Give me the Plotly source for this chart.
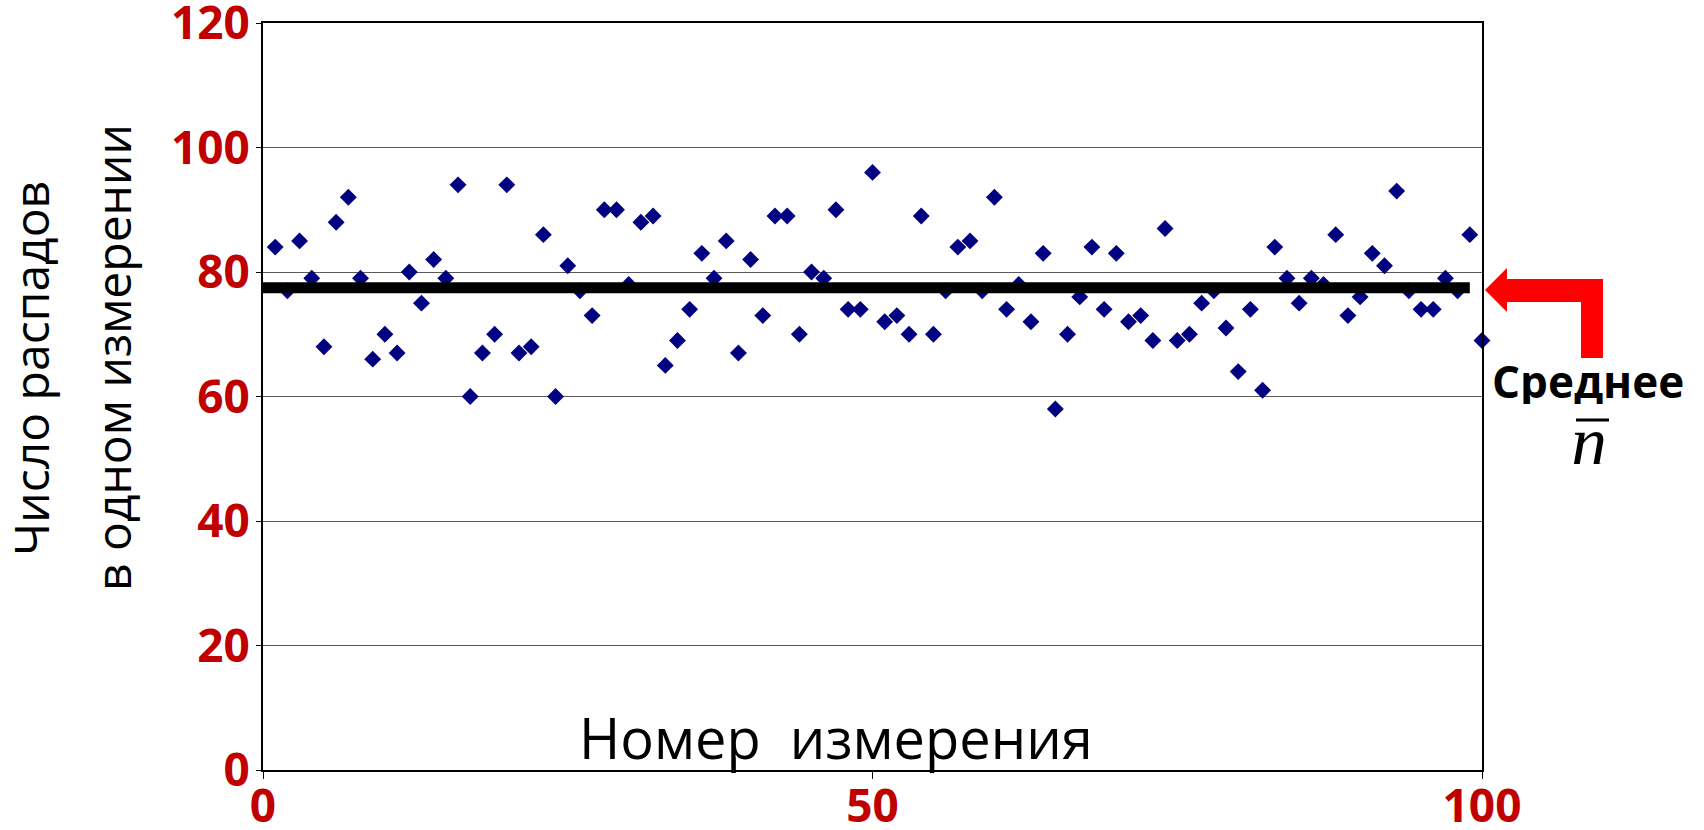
import numpy as np
import plotly.graph_objects as go

# ---- data ----
measurement = list(range(1, 101))
counts = [84, 77, 85, 79, 68, 88, 92, 79, 66, 70,
          67, 80, 75, 82, 79, 94, 60, 67, 70, 94,
          67, 68, 86, 60, 81, 77, 73, 90, 90, 78,
          88, 89, 65, 69, 74, 83, 79, 85, 67, 82,
          73, 89, 89, 70, 80, 79, 90, 74, 74, 96,
          72, 73, 70, 89, 70, 77, 84, 85, 77, 92,
          74, 78, 72, 83, 58, 70, 76, 84, 74, 83,
          72, 73, 69, 87, 69, 70, 75, 77, 71, 64,
          74, 61, 84, 79, 75, 79, 78, 86, 73, 76,
          83, 81, 93, 77, 74, 74, 79, 77, 86, 69]
mean_span = [0, 99]
x_ticks = [0, 50, 100]
y_ticks = [0, 20, 40, 60, 80, 100, 120]

mean_val = float(np.mean(counts))

W, H = 1704, 830
L, R, T, B = 263, 222, 23, 60
PW, PH = W - L - R, H - T - B


def px(x):
    return (x - L) / PW


def py(y):
    return (H - B - y) / PH


RED = "#C00000"
FONT = "Open Sans"

fig = go.Figure()
fig.add_trace(go.Scatter(
    x=measurement, y=counts, mode="markers",
    marker=dict(symbol="diamond", size=13, color="#000080", line=dict(width=0)),
    cliponaxis=False, showlegend=False, hoverinfo="x+y"))
fig.add_trace(go.Scatter(
    x=mean_span, y=[mean_val, mean_val], mode="lines",
    line=dict(color="black", width=11), cliponaxis=False, showlegend=False))

fig.update_xaxes(range=[0, 100], tickvals=x_ticks, ticktext=[str(v) for v in x_ticks],
                 showgrid=False, zeroline=False, showline=True, mirror=True,
                 linecolor="black", linewidth=2, ticks="outside", ticklen=7,
                 tickcolor="black", tickwidth=1, ticklabelstandoff=-12,
                 ticklabeloverflow="allow",
                 tickfont=dict(family=FONT, size=46, color=RED, weight="bold"))
fig.update_yaxes(range=[0, 120], tickvals=y_ticks, ticktext=[str(v) for v in y_ticks],
                 showgrid=True, gridcolor="#595959", gridwidth=1, zeroline=False,
                 showline=True, mirror=True, linecolor="black", linewidth=2,
                 ticks="outside", ticklen=5, tickcolor="black", tickwidth=1,
                 ticklabelstandoff=-3, ticklabeloverflow="allow",
                 tickfont=dict(family=FONT, size=46, color=RED, weight="bold"))

annotations = [
    dict(text="Номер\u00a0 измерения", x=px(836), y=py(737), xref="paper", yref="paper",
         showarrow=False, xanchor="center", yanchor="middle",
         font=dict(family=FONT, size=56, color="black")),
    dict(text="Число распадов", x=px(30), y=py(369), xref="paper", yref="paper",
         showarrow=False, xanchor="center", yanchor="middle", textangle=-90,
         font=dict(family=FONT, size=48, color="black")),
    dict(text="в одном измерении", x=px(112), y=py(358), xref="paper", yref="paper",
         showarrow=False, xanchor="center", yanchor="middle", textangle=-90,
         font=dict(family=FONT, size=48, color="black")),
    dict(text="<b>Среднее</b>", x=px(1588), y=py(381), xref="paper", yref="paper",
         showarrow=False, xanchor="center", yanchor="middle", height=46,
         font=dict(family=FONT, size=44, color="black")),
    dict(text="<i>n</i>", x=px(1589), y=py(442), xref="paper", yref="paper",
         showarrow=False, xanchor="center", yanchor="middle", height=44,
         font=dict(family="Liberation Serif", size=72, color="black")),
]

arrow_pts = [(1485, 290), (1507, 268), (1507, 279), (1603, 279), (1603, 358),
             (1581, 358), (1581, 302), (1507, 302), (1507, 312)]
path = "M " + " L ".join(f"{px(a):.5f},{py(b):.5f}" for a, b in arrow_pts) + " Z"

shapes = [
    dict(type="path", path=path, xref="paper", yref="paper",
         fillcolor="#FF0000", line=dict(width=0)),
    dict(type="line", x0=px(1576), x1=px(1609), y0=py(420), y1=py(420),
         xref="paper", yref="paper", line=dict(color="black", width=3)),
]

fig.update_layout(
    width=W, height=H, margin=dict(l=L, r=R, t=T, b=B, autoexpand=False),
    paper_bgcolor="white", plot_bgcolor="white",
    annotations=annotations, shapes=shapes, showlegend=False,
)

fig.write_html("out.html", config={"displayModeBar": False},
               post_script="document.body.style.margin='0';document.body.style.overflow='hidden';")
